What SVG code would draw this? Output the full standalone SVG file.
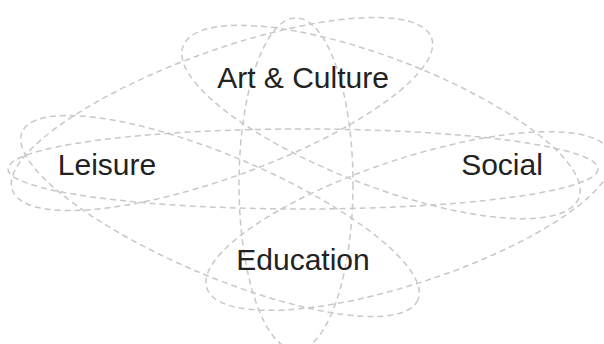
<svg xmlns="http://www.w3.org/2000/svg" width="604" height="344" viewBox="0 0 604 344">
<style>
.e{fill:none;stroke:#c8c8c8;stroke-width:1.5;stroke-dasharray:6 4}
.t{font-family:"Liberation Sans",Arial,sans-serif;font-size:30px;fill:#222;text-anchor:middle}
</style>
<rect width="604" height="344" fill="#fff"/>
<g id="connectors">
<ellipse class="e" cx="222" cy="114" rx="223" ry="63" transform="rotate(-20 222 114)"/>
<ellipse class="e" cx="381" cy="122" rx="212" ry="64" transform="rotate(21 381 122)"/>
<ellipse class="e" cx="296" cy="184" rx="57" ry="166"/>
<ellipse class="e" cx="303" cy="169" rx="295" ry="40"/>
<ellipse class="e" cx="220" cy="216" rx="215" ry="60" transform="rotate(23 220 216)"/>
<ellipse class="e" cx="409" cy="221" rx="213" ry="62" transform="rotate(-18.4 409 221)"/>
</g>
<g id="art"><text class="t" x="303" y="88">Art &amp; Culture</text></g>
<g id="leisure"><text class="t" x="107" y="175">Leisure</text></g>
<g id="social"><text class="t" x="502" y="175">Social</text></g>
<g id="education"><text class="t" x="303" y="270">Education</text></g>
</svg>
